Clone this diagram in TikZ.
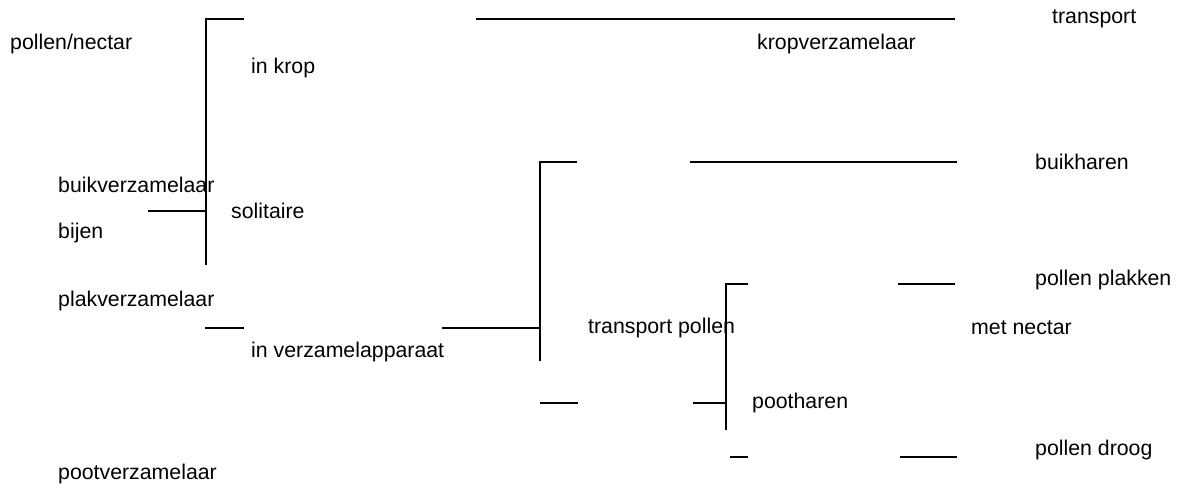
\documentclass[tikz,border=0pt]{standalone}
\usepackage{fontspec}
\setmainfont{Liberation Sans}
\begin{document}
\begin{tikzpicture}[x=1pt,y=-1pt,
  lbl/.style={anchor=west,inner sep=0pt,font=\fontsize{21.3}{24}\selectfont},
  ln/.style={draw=black,line width=1.7pt}]
\useasboundingbox (0,0) rectangle (1195,484);
% labels
\node[lbl] (pn) at (10,44) {pollen/nectar};
\node[lbl] (ik) at (251,68) {in krop};
\node[lbl] (bv) at (58,185) {buikverzamelaar};
\node[lbl] (so) at (231,211) {solitaire};
\node[lbl] (bi) at (58,233) {bijen};
\node[lbl] (pv) at (58,301) {plakverzamelaar};
\node[lbl] (iv) at (251,352) {in verzamelapparaat};
\node[lbl] (tp) at (588,328) {transport pollen};
\node[lbl] (ph) at (752,403) {pootharen};
\node[lbl] (pt) at (58,474) {pootverzamelaar};
\node[lbl] (tr) at (1052,19) {transport};
\node[lbl] (kv) at (757,44) {kropverzamelaar};
\node[lbl] (bh) at (1035,162) {buikharen};
\node[lbl] (pp) at (1035,280) {pollen plakken};
\node[lbl] (mn) at (971,328) {met nectar};
\node[lbl] (pd) at (1035,450) {pollen droog};
% line end points
\coordinate (a1) at (244,19); \coordinate (a2) at (206,19); \coordinate (a3) at (206,265);
\coordinate (b1) at (148,211); \coordinate (b2) at (206,211);
\coordinate (c1) at (476,19); \coordinate (c2) at (955,19);
\coordinate (d1) at (205,328); \coordinate (d2) at (244,328);
\coordinate (e1) at (442,328); \coordinate (e2) at (540,328);
\coordinate (f1) at (577,162); \coordinate (f2) at (540,162); \coordinate (f3) at (540,361);
\coordinate (g1) at (690,162); \coordinate (g2) at (957,162);
\coordinate (h1) at (540,403); \coordinate (h2) at (578,403);
\coordinate (i1) at (693,403); \coordinate (i2) at (726,403);
\coordinate (j1) at (748,284); \coordinate (j2) at (726,284); \coordinate (j3) at (726,430);
\coordinate (k1) at (730,457); \coordinate (k2) at (748,457);
\coordinate (l1) at (898,284); \coordinate (l2) at (955,284);
\coordinate (m1) at (900,457); \coordinate (m2) at (957,457);
% lines
\draw[ln] (a1) -- (a2) -- (a3);
\draw[ln] (b1) -- (b2);
\draw[ln] (c1) -- (c2);
\draw[ln] (d1) -- (d2);
\draw[ln] (e1) -- (e2);
\draw[ln] (f1) -- (f2) -- (f3);
\draw[ln] (g1) -- (g2);
\draw[ln] (h1) -- (h2);
\draw[ln] (i1) -- (i2);
\draw[ln] (j1) -- (j2) -- (j3);
\draw[ln] (k1) -- (k2);
\draw[ln] (l1) -- (l2);
\draw[ln] (m1) -- (m2);
\end{tikzpicture}
\end{document}
